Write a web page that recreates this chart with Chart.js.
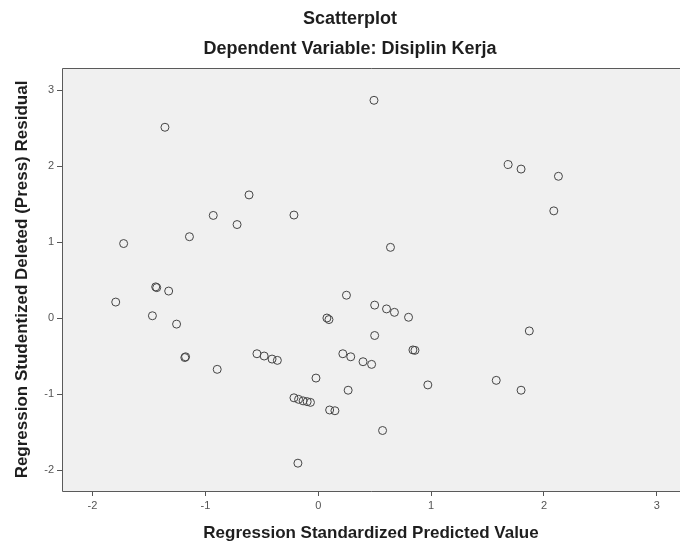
<!DOCTYPE html>
<html>
<head>
<meta charset="utf-8">
<script src="https://cdn.jsdelivr.net/npm/chart.js@4"></script>
<style>
  html, body { margin: 0; padding: 0; background: #ffffff; }
  #wrap { width: 685px; height: 543px; }
</style>
</head>
<body>
<div id="wrap"><canvas id="c" width="685" height="543"></canvas></div>
<script>
// Data
const predictedValues = [
  -1.358, -0.613, -0.930, -0.719, -1.141, -1.724, -1.794, -1.431, -1.440, -1.325,
  -1.469, -1.255, -1.182, -1.175, -0.895, -0.543, -0.479, -0.409, -0.362, 0.250,
  0.077, 0.095, 0.500, 0.605, 0.675, 0.800, 0.500, 0.218, 0.288, 0.397,
  0.473, 0.839, 0.857, -0.020, 0.265, 0.971, -0.215, -0.174, -0.134, -0.098,
  -0.069, 0.101, 0.148, 0.570, -0.180, 0.494, -0.215, 0.640, 1.683, 1.797,
  2.128, 2.087, 1.870, 1.577, 1.797
];
const residualValues = [
  2.51, 1.62, 1.35, 1.23, 1.07, 0.98, 0.21, 0.40, 0.41, 0.355,
  0.03, -0.08, -0.52, -0.51, -0.675, -0.47, -0.50, -0.54, -0.557, 0.30,
  0.00, -0.02, 0.17, 0.12, 0.075, 0.01, -0.23, -0.47, -0.51, -0.575,
  -0.61, -0.42, -0.425, -0.79, -0.95, -0.88, -1.05, -1.07, -1.09, -1.10,
  -1.11, -1.21, -1.22, -1.48, -1.91, 2.865, 1.355, 0.93, 2.02, 1.96,
  1.865, 1.41, -0.17, -0.82, -0.95
];
const xTickValues = [-2, -1, 0, 1, 2, 3];
const yTickValues = [-2, -1, 0, 1, 2, 3];
const chartTitle = 'Scatterplot';
const chartSubtitle = 'Dependent Variable: Disiplin Kerja';
const xAxisTitle = 'Regression Standardized Predicted Value';
const yAxisTitle = 'Regression Studentized Deleted (Press) Residual';

const points = predictedValues.map((x, i) => ({ x: x, y: residualValues[i] }));
const FONT = "'Liberation Sans', Arial, sans-serif";

const framePlugin = {
  id: 'frame',
  beforeDraw(chart) {
    const { ctx, chartArea: a } = chart;
    ctx.save();
    ctx.fillStyle = '#f0f0f0';
    ctx.fillRect(a.left, a.top, a.right - a.left, a.bottom - a.top);
    ctx.restore();
  },
  afterDraw(chart) {
    const { ctx, chartArea: a } = chart;
    ctx.save();
    ctx.strokeStyle = '#5a5a5a';
    ctx.lineWidth = 1;
    ctx.beginPath();
    ctx.moveTo(a.right, a.top + 0.5);
    ctx.lineTo(a.left + 0.5, a.top + 0.5);
    ctx.lineTo(a.left + 0.5, a.bottom + 0.5);
    ctx.lineTo(a.right, a.bottom + 0.5);
    ctx.stroke();
    ctx.restore();
  }
};

new Chart(document.getElementById('c'), {
  type: 'scatter',
  data: {
    datasets: [{
      data: points,
      pointStyle: 'circle',
      pointRadius: 4,
      pointHoverRadius: 4,
      pointBackgroundColor: 'rgba(0,0,0,0)',
      pointBorderColor: '#454545',
      pointBorderWidth: 1
    }]
  },
  options: {
    responsive: false,
    devicePixelRatio: 1,
    animation: false,
    events: [],
    layout: { padding: { left: 15, right: 0, top: 0, bottom: 0 } },
    plugins: {
      legend: { display: false },
      tooltip: { enabled: false },
      title: {
        display: true,
        text: chartTitle,
        color: '#1e1e1e',
        font: { family: FONT, size: 18, weight: 'bold', lineHeight: 1.2 },
        padding: { top: 8, bottom: 0 }
      },
      subtitle: {
        display: true,
        text: chartSubtitle,
        color: '#1e1e1e',
        font: { family: FONT, size: 18, weight: 'bold', lineHeight: 1.2 },
        padding: { top: 8.6, bottom: 8.2 }
      }
    },
    scales: {
      x: {
        type: 'linear',
        min: -2.27,
        max: 3.205,
        afterFit(scale) { scale.height = 52; },
        afterBuildTicks(scale) { scale.ticks = xTickValues.map(v => ({ value: v })); },
        border: { display: false },
        grid: { drawOnChartArea: false, drawTicks: true, tickLength: 5, color: '#555555', lineWidth: 1 },
        ticks: {
          includeBounds: false,
          color: '#555555',
          padding: 3,
          font: { family: FONT, size: 11 },
          callback: v => String(v)
        },
        title: {
          display: true,
          text: xAxisTitle,
          color: '#1e1e1e',
          font: { family: FONT, size: 17, weight: 'bold', lineHeight: 1 },
          padding: { top: 0, bottom: 1.5 }
        }
      },
      y: {
        type: 'linear',
        min: -2.276,
        max: 3.29,
        afterFit(scale) { scale.width = 47; },
        afterBuildTicks(scale) { scale.ticks = yTickValues.map(v => ({ value: v })); },
        border: { display: false },
        grid: { drawOnChartArea: false, drawTicks: true, tickLength: 5, color: '#555555', lineWidth: 1 },
        ticks: {
          includeBounds: false,
          color: '#555555',
          padding: 3,
          font: { family: FONT, size: 11 },
          callback: v => String(v)
        },
        title: {
          display: true,
          text: yAxisTitle,
          color: '#1e1e1e',
          font: { family: FONT, size: 17, weight: 'bold', lineHeight: 1 },
          padding: { top: -1.5, bottom: 0 }
        }
      }
    }
  },
  plugins: [framePlugin]
});
</script>
</body>
</html>
